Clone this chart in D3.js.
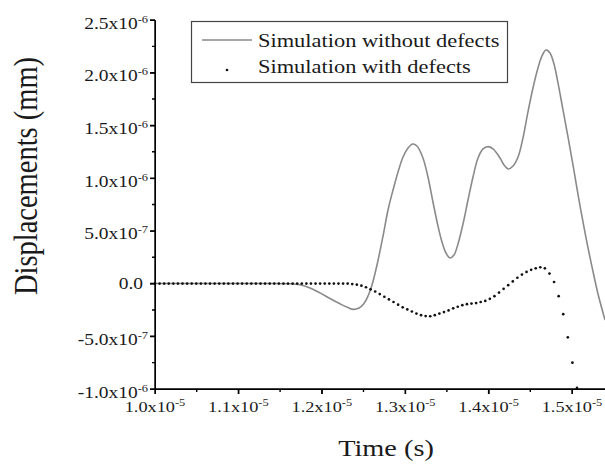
<!DOCTYPE html>
<html>
<head>
<meta charset="utf-8">
<script src="https://cdn.jsdelivr.net/npm/d3@7/dist/d3.min.js"></script>
<style>
  html, body { margin: 0; padding: 0; background: #fff; }
  svg { display: block; }
  text { font-family: "Liberation Serif", "Times New Roman", serif; fill: #1a1a1a; }
</style>
</head>
<body>
<svg id="chart" width="605" height="467"></svg>
<script>
// ---- Data (time in units of 1e-6 s, displacement in units of 1e-7 mm) ----
const seriesNames = ["Simulation without defects", "Simulation with defects"];

// Simulation without defects (grey line)
const noDefectTime = [10.000, 11.139, 11.619, 11.739, 11.859, 11.978, 12.098, 12.218, 12.314, 12.380,
  12.446, 12.506, 12.554, 12.602, 12.662, 12.734, 12.794, 12.854, 12.914, 12.974,
  13.034, 13.090, 13.141, 13.213, 13.273, 13.333, 13.393, 13.441, 13.489, 13.537,
  13.585, 13.633, 13.693, 13.753, 13.813, 13.873, 13.933, 13.993, 14.053, 14.137,
  14.185, 14.236, 14.293, 14.353, 14.412, 14.472, 14.532, 14.592, 14.640, 14.688,
  14.736, 14.784, 14.832, 14.892, 14.952, 15.024, 15.096, 15.168, 15.240, 15.312, 15.396];
const noDefectDisp = [0, 0, -0.02, -0.12, -0.42, -0.88, -1.42, -1.92, -2.28, -2.45,
  -2.32, -1.89, -1.18, -0.13, 1.76, 4.51, 6.98, 8.88, 10.59, 12.01,
  12.86, 13.24, 13.05, 11.91, 10.11, 7.74, 5.46, 3.95, 2.90, 2.43,
  2.71, 3.76, 5.65, 7.93, 10.11, 11.91, 12.77, 12.99, 12.77, 11.91,
  11.25, 10.87, 11.15, 12.01, 13.81, 16.28, 18.55, 20.45, 21.59, 22.16,
  21.87, 20.83, 19.03, 16.47, 13.91, 10.68, 7.36, 4.33, 1.58, -0.99, -3.45];

// Simulation with defects (dots), sampled every dotStep from dotStart
const dotStart = 10.0;
const dotStep = 0.055;
const defectDisp = [0, 0, 0, 0, 0, 0, 0, 0, 0, 0,
  0, 0, 0, 0, 0, 0, 0, 0, 0, 0,
  0, 0, 0, 0, 0, 0, 0, 0, 0, 0,
  0, 0, 0, 0, 0, 0, 0, 0, 0, 0,
  0, 0, 0,
  -0.05, -0.1, -0.2, -0.35, -0.55, -0.75, -1.0, -1.25, -1.5, -1.75,
  -2.0, -2.25, -2.45, -2.65, -2.85, -3.0, -3.08, -3.1, -3.0, -2.85,
  -2.7, -2.55, -2.35, -2.2, -2.05, -1.95, -1.9, -1.85, -1.75, -1.65,
  -1.45, -1.2, -0.85, -0.5, -0.15, 0.2, 0.55, 0.85, 1.1, 1.3,
  1.45, 1.55, 1.45, 0.95, 0.15, -1.2, -2.9, -5.1, -7.5, -9.9];

// Tick values and labels
const xTicks = [10, 11, 12, 13, 14, 15];
const xTickMant = ["1.0x10", "1.1x10", "1.2x10", "1.3x10", "1.4x10", "1.5x10"];
const xTickExp = ["-5", "-5", "-5", "-5", "-5", "-5"];
const xMinor = [10.5, 11.5, 12.5, 13.5, 14.5];
const yTicks = [-10, -5, 0, 5, 10, 15, 20, 25];
const yTickMant = ["-1.0x10", "-5.0x10", "0.0", "5.0x10", "1.0x10", "1.5x10", "2.0x10", "2.5x10"];
const yTickExp = ["-6", "-7", "", "-7", "-6", "-6", "-6", "-6"];
const yMinor = [-7.5, -2.5, 2.5, 7.5, 12.5, 17.5, 22.5];

// ---- Layout ----
const L = 155, R = 605, T = 20, B = 389;
const SX = 1.18; // horizontal glyph stretch seen in the reference
const svg = d3.select("#chart");

const x = d3.scaleLinear().domain([10, 10 + (R - L) / 83.4]).range([L, R]);
const y = d3.scaleLinear().domain([-10, 25]).range([B, T]);

// ---- Grey line ----
const lineData = noDefectTime.map((t, i) => ({ t, v: noDefectDisp[i] }));
svg.append("path")
  .datum(lineData)
  .attr("fill", "none")
  .attr("stroke", "#8a8a8a")
  .attr("stroke-width", 1.6)
  .attr("d", d3.line().x(d => x(d.t)).y(d => y(d.v)).curve(d3.curveCatmullRom.alpha(0.5)));

// ---- Dots ----
const dotData = defectDisp.map((v, i) => ({ t: dotStart + i * dotStep, v }));
svg.append("g").selectAll("circle")
  .data(dotData)
  .join("circle")
  .attr("cx", d => x(d.t))
  .attr("cy", d => y(d.v))
  .attr("r", 1.35)
  .attr("fill", "#111");

// ---- Axis frame as a path built from the scales ----
const frame = d3.path();
frame.moveTo(x.range()[0], y.range()[1]);
frame.lineTo(x.range()[0], y.range()[0]);
frame.lineTo(x.range()[1], y.range()[0]);
xTicks.forEach(v => { frame.moveTo(x(v), B); frame.lineTo(x(v), B + 5); });
xMinor.forEach(v => { frame.moveTo(x(v), B); frame.lineTo(x(v), B + 3); });
yTicks.forEach(v => { frame.moveTo(L, y(v)); frame.lineTo(L - 5, y(v)); });
yMinor.forEach(v => { frame.moveTo(L, y(v)); frame.lineTo(L - 3, y(v)); });
svg.append("path")
  .attr("d", frame.toString())
  .attr("fill", "none")
  .attr("stroke", "black")
  .attr("stroke-width", 1.4);

// ---- d3 axes (same geometry) ----
const blank = () => "";
const gx = svg.append("g").attr("transform", `translate(0,${B})`);
gx.call(d3.axisBottom(x).tickValues(xTicks).tickSize(5).tickSizeOuter(0).tickFormat(blank));
const gy = svg.append("g").attr("transform", `translate(${L},0)`);
gy.call(d3.axisLeft(y).tickValues(yTicks).tickSize(5).tickSizeOuter(0).tickFormat(blank));

// ---- Tick labels ----
function labelText(sel, mant, exp) {
  sel.append("tspan").text(mant);
  if (exp) sel.append("tspan").attr("dy", -6).attr("font-size", 10.5).text(exp);
}
xTicks.forEach((t, i) => {
  const tx = svg.append("text")
    .attr("transform", `translate(${x(t)},412) scale(${SX},1)`)
    .attr("text-anchor", "middle")
    .attr("font-size", 15.5);
  labelText(tx, xTickMant[i], xTickExp[i]);
});
yTicks.forEach((v, i) => {
  const hasExp = yTickExp[i] !== "";
  const tx = svg.append("text")
    .attr("transform", `translate(${hasExp ? 148 : 143},${y(v) + (hasExp ? 8.5 : 5)}) scale(${SX},1)`)
    .attr("text-anchor", "end")
    .attr("font-size", 16.5);
  labelText(tx, yTickMant[i], yTickExp[i]);
});

// ---- Axis titles ----
svg.append("text")
  .attr("transform", `translate(386,456) scale(${SX},1)`)
  .attr("text-anchor", "middle")
  .attr("font-size", 24)
  .text("Time (s)");
svg.append("text")
  .attr("transform", `translate(37,176) rotate(-90) scale(1,${SX})`)
  .attr("text-anchor", "middle")
  .attr("font-size", 28.5)
  .text("Displacements (mm)");

// ---- Legend ----
const lg = svg.append("g");
lg.append("rect").attr("x", 191.5).attr("y", 21.5).attr("width", 316).attr("height", 61)
  .attr("fill", "#fff").attr("stroke", "#444").attr("stroke-width", 1.2);
lg.append("line").attr("x1", 202).attr("x2", 252).attr("y1", 40).attr("y2", 40)
  .attr("stroke", "#8a8a8a").attr("stroke-width", 1.6);
lg.append("circle").attr("cx", 227).attr("cy", 70).attr("r", 1.35).attr("fill", "#111");
seriesNames.forEach((name, i) => {
  lg.append("text")
    .attr("transform", `translate(258,${46.5 + i * 26}) scale(${SX},1)`)
    .attr("font-size", 19)
    .text(name);
});
</script>
</body>
</html>
